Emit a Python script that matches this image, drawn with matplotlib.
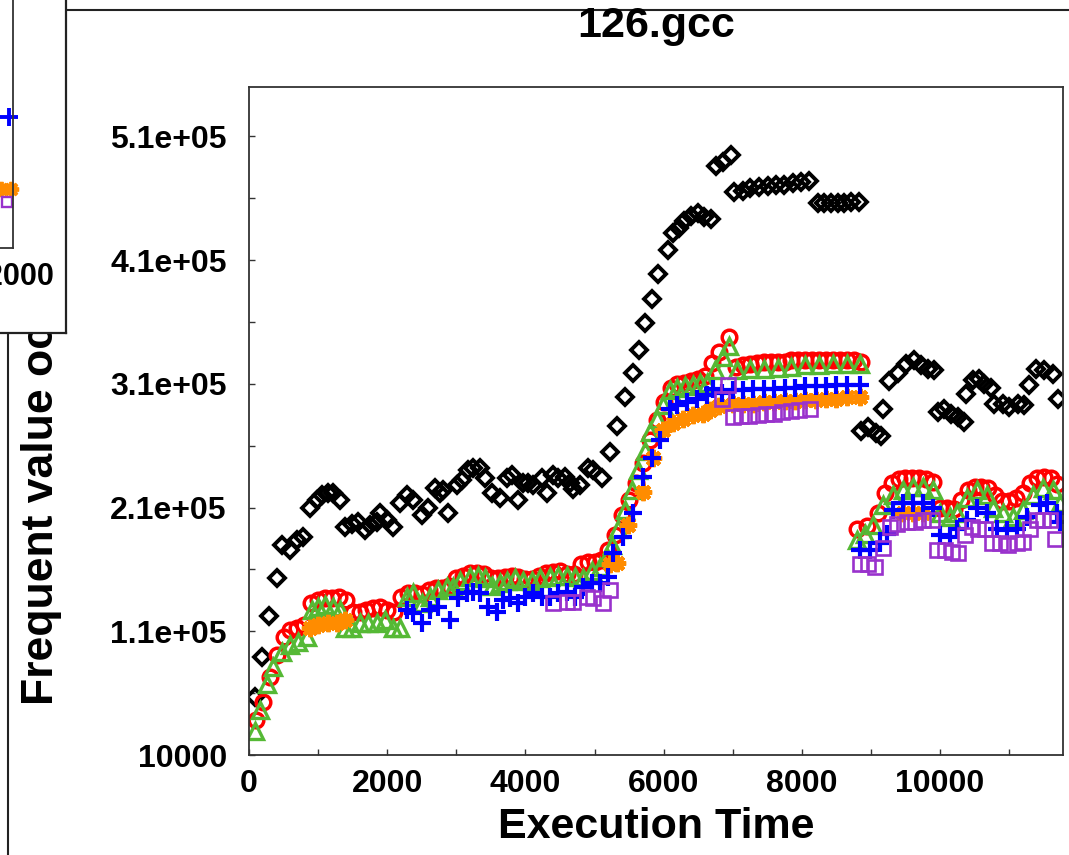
import matplotlib
matplotlib.use("Agg")
import matplotlib.pyplot as plt
from matplotlib.lines import Line2D
from matplotlib.ticker import FixedLocator, MultipleLocator

FONT = "Liberation Sans"

# ---------------- data ----------------
black_x = [87, 188, 290, 406, 478, 594, 696, 783, 884, 985, 1058, 1145, 1217, 1319,
           1391, 1493, 1579, 1681, 1753, 1855, 1898, 2000, 2087, 2188, 2290, 2376,
           2507, 2594, 2695, 2768, 2811, 2884, 3014, 3086, 3173, 3246, 3347, 3420,
           3521, 3637, 3738, 3811, 3898, 3970, 4043, 4115, 4246, 4318, 4405, 4477,
           4579, 4651, 4695, 4796, 4912, 4985, 5115, 5231, 5332, 5448, 5550, 5637,
           5738, 5839, 5926, 6057, 6129, 6216, 6289, 6390, 6492, 6578, 6680, 6752,
           6854, 6969, 7013, 7144, 7245, 7375, 7506, 7622, 7738, 7868, 7984, 8100,
           8230, 8317, 8419, 8520, 8607, 8708, 8824,
           8860, 8955, 9071, 9143, 9172, 9259, 9390, 9505, 9621, 9723, 9824, 9911,
           9969, 10056, 10158, 10259, 10346, 10375, 10476, 10563, 10636, 10737,
           10781, 10911, 10998, 11128, 11215, 11288, 11389, 11505, 11635, 11708]
black_y = [57, 89, 122, 153, 180, 176, 184, 186, 210, 216, 220, 222, 222, 216,
           194, 197, 198, 192, 196, 198, 206, 200, 194, 214, 220, 216,
           204, 210, 226, 222, 224, 206, 228, 232, 240, 242, 242, 234,
           222, 218, 234, 236, 216, 230, 230, 228, 234, 222, 236, 234,
           235, 230, 225, 228, 242, 240, 234, 255, 276, 299, 319, 337,
           359, 379, 399, 418, 432, 436, 442, 446, 448, 445, 443, 486,
           489, 495, 465, 466, 468, 469, 470, 471, 471, 472, 473, 474,
           456, 456, 456, 456, 456, 457, 457,
           272, 275, 270, 268, 290, 312, 319, 326, 329, 325, 322, 321,
           287, 290, 286, 283, 279, 302, 313, 314, 310, 307,
           294, 294, 291, 294, 293, 309, 322, 321, 318, 298]

red_x = [100, 200, 300, 400, 500, 600, 700, 800, 900, 1000, 1100, 1200, 1300, 1400,
         1500, 1600, 1700, 1800, 1900, 2000, 2100, 2200, 2300, 2400, 2500, 2600,
         2700, 2800, 2900, 3000, 3100, 3200, 3300, 3400, 3500, 3600, 3700, 3800,
         3900, 4000, 4100, 4200, 4300, 4400, 4500, 4600, 4700, 4800, 4900, 5000,
         5100, 5200, 5300, 5400, 5500, 5600, 5700, 5800, 5900, 6000, 6100, 6200,
         6300, 6400, 6500, 6600, 6700, 6800, 6950, 7050, 7150, 7250, 7350, 7450,
         7550, 7650, 7750, 7850, 7950, 8050, 8150, 8250, 8350, 8450, 8550, 8650,
         8750, 8850,
         8800, 8950, 9100, 9200, 9300, 9400, 9500, 9600, 9700, 9800, 9900, 10000,
         10100, 10200, 10300, 10400, 10500, 10600, 10700, 10800, 10900, 11000,
         11100, 11200, 11300, 11400, 11500, 11600, 11700]
red_y = [38, 53, 73, 91, 105, 111, 113, 115, 133, 135, 137, 137, 138, 135,
         126, 126, 127, 129, 130, 127, 126, 138, 141, 141, 140, 143,
         145, 145, 147, 153, 155, 157, 157, 156, 153, 153, 154, 155,
         154, 152, 152, 155, 157, 158, 159, 156, 156, 164, 166, 166,
         168, 176, 188, 204, 216, 230, 246, 265, 281, 295, 307, 310,
         311, 312, 314, 316, 327, 336, 348, 324, 325, 326, 327, 328,
         328, 328, 328, 329, 329, 329, 329, 329, 329, 329, 329, 329,
         329, 328,
         193, 195, 206, 222, 230, 233, 234, 234, 234, 233, 231, 210,
         210, 209, 216, 224, 227, 227, 226, 220, 215, 215,
         218, 222, 230, 234, 235, 234, 229]

green_x = [87, 159, 260, 347, 478, 593, 709, 839, 912, 998, 1100, 1215, 1317, 1389,
           1490, 1606, 1722, 1852, 1968, 2084, 2185, 2286, 2373, 2503, 2619, 2735,
           2865, 2952, 3053, 3198, 3314, 3415, 3516, 3632, 3733, 3849, 3965, 4095,
           4211, 4355, 4471, 4601, 4717, 4833, 4963, 5079, 5180, 5252, 5339, 5441,
           5542, 5629, 5730, 5802, 5904, 5991, 6092, 6193, 6309, 6425, 6526, 6627,
           6743, 6859, 6946, 7061, 7250, 7450, 7650, 7850, 8050, 8250, 8450, 8650,
           8841,
           8798, 8914, 9029, 9174, 9319, 9463, 9608, 9753, 9897, 9999, 10143, 10245,
           10389, 10534, 10679, 10766, 10910, 11055, 11200, 11344, 11489, 11634, 11735]
green_y = [29, 46, 67, 81, 93, 99, 101, 105, 127, 130, 131, 130, 127, 113,
           113, 117, 117, 117, 119, 113, 113, 138, 141, 133, 138, 143,
           146, 146, 151, 154, 155, 153, 147, 149, 151, 153, 151, 151,
           153, 154, 155, 155, 154, 153, 159, 162, 170, 180, 193, 208,
           224, 240, 256, 271, 282, 293, 305, 307, 308, 309, 311, 311,
           321, 332, 341, 321, 322, 322, 323, 324, 325, 325, 326, 326,
           326,
           184, 189, 196, 212, 220, 224, 227, 227, 224, 206, 202, 206,
           218, 224, 220, 210, 206, 202, 208, 220, 226, 224, 214]

blue_x = [2286, 2373, 2503, 2619, 2735, 2908, 3024, 3154, 3241, 3343, 3458, 3589,
          3675, 3777, 3892, 3994, 4109, 4240, 4355, 4471, 4601, 4717, 4833, 4963,
          5079, 5195, 5267, 5412, 5556, 5701, 5831, 5947, 6092, 6193, 6338, 6483,
          6627, 6714, 6850, 7000, 7150, 7300, 7450, 7600, 7750, 7900, 8050, 8200,
          8350, 8500, 8650, 8841,
          8841, 8986, 9130, 9232, 9319, 9463, 9608, 9753, 9897, 9999, 10143, 10245,
          10389, 10534, 10679, 10824, 10968, 11113, 11258, 11446, 11547, 11692, 11730]
blue_y = [127, 125, 117, 127, 130, 119, 137, 141, 142, 141, 130, 126,
          135, 137, 133, 138, 141, 138, 138, 141, 142, 138, 146, 149,
          149, 154, 173, 186, 206, 235, 250, 265, 290, 293, 295, 298,
          301, 306, 303, 305, 305, 306, 306, 306, 307, 307, 308, 308,
          308, 309, 309, 309,
          176, 176, 181, 189, 208, 214, 214, 214, 210, 188, 186, 193,
          200, 210, 206, 193, 192, 193, 202, 212, 214, 206, 198]

orange_x = [883, 998, 1143, 1273, 1389, 5224, 5325, 5484, 5701, 5846, 5991, 6135,
            6280, 6425, 6569, 6671, 6800, 7003, 7150, 7300, 7450, 7600, 7750, 7900,
            8050, 8200, 8350, 8500, 8650, 8841, 9463, 9608, 9753]
orange_y = [113, 115, 117, 117, 119, 164, 165, 196, 223, 250, 273, 278,
            282, 285, 286, 289, 292, 294, 294, 294, 295, 295, 296, 296,
            297, 297, 298, 298, 299, 299, 206, 206, 206]

purple_x = [4399, 4601, 4688, 4891, 4978, 5122, 5224, 6844, 6931, 7003, 7120, 7240,
            7360, 7480, 7600, 7720, 7840, 7960, 8118,
            8841, 8957, 9058, 9174, 9275, 9376, 9521, 9637, 9753, 9883, 9955, 10071,
            10172, 10259, 10360, 10462, 10549, 10650, 10751, 10867, 10983, 11113,
            11200, 11301, 11402, 11489, 11591, 11663]
purple_y = [133, 134, 134, 138, 137, 133, 143, 298, 309, 283, 284, 284,
            285, 286, 286, 287, 288, 289, 290,
            164, 164, 162, 177, 194, 197, 198, 198, 200, 200, 176, 176,
            174, 173, 188, 194, 193, 193, 181, 181, 180, 181,
            182, 193, 200, 200, 200, 185]

# partly hidden neighbouring chart (top-left corner)
inset_blue_x, inset_blue_y = [11940], [116]
inset_orange_x, inset_orange_y = [11830, 11965], [58, 58]
inset_purple_x, inset_purple_y = [11915], [47]

yticks = [10000, 110000, 210000, 310000, 410000, 510000]
ytick_labels = ["10000", "1.1e+05", "2.1e+05", "3.1e+05", "4.1e+05", "5.1e+05"]
xticks = [0, 2000, 4000, 6000, 8000, 10000]

# ---------------- figure ----------------
W, H = 1069, 855
fig = plt.figure(figsize=(W / 100, H / 100), dpi=100)
fig.patch.set_facecolor("white")


def fx(px):
    return px / W


def fy(py):
    return 1 - py / H


ax = fig.add_axes([fx(249), fy(755), fx(1063) - fx(249), fy(87) - fy(755)])

k = 1000.0
style = dict(linestyle="none", clip_on=True)
ax.plot(black_x, [v * k for v in black_y], marker="D", ms=8.5, mfc="none",
        mec="black", mew=2.8, **style)
ax.plot(red_x, [v * k for v in red_y], marker="o", ms=10.5, mfc="none",
        mec="#ff0000", mew=2.5, **style)
ax.plot(green_x, [v * k for v in green_y], marker="^", ms=11.5, mfc="none",
        mec="#55b935", mew=2.4, **style)
ax.plot(orange_x, [v * k for v in orange_y], marker=(8, 2, 0), ms=12.5,
        mec="#ff8c00", mew=3.0, **style)
ax.plot(blue_x, [v * k for v in blue_y], marker="+", ms=13.5, mec="#0000ff",
        mew=3.0, **style)
ax.plot(purple_x, [v * k for v in purple_y], marker="s", ms=9.5, mfc="none",
        mec="#9932cc", mew=1.9, **style)

ax.set_xlim(0, 11780)
ax.set_ylim(10000, 550000)
ax.yaxis.set_major_locator(FixedLocator(yticks))
ax.set_yticklabels(ytick_labels)
ax.yaxis.set_minor_locator(FixedLocator([60000, 160000, 260000, 360000, 460000]))
ax.xaxis.set_major_locator(FixedLocator(xticks))
ax.xaxis.set_minor_locator(MultipleLocator(1000))
ax.tick_params(which="both", direction="in", length=4.5, width=1.0,
               top=False, right=False, color="#333333")
ax.tick_params(axis="y", which="major", pad=16)
ax.tick_params(axis="x", which="major", pad=10)
for lab in ax.get_xticklabels() + ax.get_yticklabels():
    lab.set_fontfamily(FONT)
    lab.set_fontweight("bold")
    lab.set_fontsize(23)
for s in ax.spines.values():
    s.set_linewidth(1.3)
    s.set_color("#333333")

ax.set_xlabel("Execution Time", fontfamily=FONT, fontweight="bold", fontsize=31,
              va="baseline")
ax.xaxis.set_label_coords(0.5, (755 - 838) / 668)
ax.set_ylabel("Frequent value occurrence", fontfamily=FONT, fontweight="bold",
              fontsize=32, va="baseline")
ax.yaxis.set_label_coords((53 - 249) / 814, (755 - 421) / 668)

fig.text(fx(656), fy(37), "126.gcc", ha="center", va="baseline", fontfamily=FONT,
         fontweight="bold", fontsize=31)

# frame of the figure window
fig.add_artist(Line2D([fx(8), fx(8)], [0, fy(333)], transform=fig.transFigure,
                      color="#222222", lw=1.5))
fig.add_artist(Line2D([fx(66), 1], [fy(10), fy(10)], transform=fig.transFigure,
                      color="#222222", lw=1.5))

# overlapping window of another chart at top-left
box = fig.add_axes([fx(-20), fy(333), fx(66) - fx(-20), fy(-20) - fy(333)])
box.set_facecolor("white")
box.set_xticks([])
box.set_yticks([])
box.spines["left"].set_visible(False)
box.spines["top"].set_visible(False)
for s in ("right", "bottom"):
    box.spines[s].set_linewidth(1.6)
    box.spines[s].set_color("#222222")
box.set_zorder(10)

inner_w = 11780 / 14.47
inner = fig.add_axes([fx(13 - inner_w), fy(248), inner_w / W, 668 / H])
inner.set_facecolor("none")
inner.set_xlim(0, 12000)
inner.set_ylim(10000, 550000)
inner.set_xticks([])
inner.set_yticks([])
inner.spines["left"].set_visible(False)
inner.spines["top"].set_visible(False)
for s in ("right", "bottom"):
    inner.spines[s].set_linewidth(1.3)
    inner.spines[s].set_color("#333333")
inner.set_zorder(11)
inner.plot(inset_blue_x, [v * k for v in inset_blue_y], marker="+", ms=13,
           mec="#0000ff", mew=2.8, linestyle="none", clip_on=False)
inner.plot(inset_orange_x, [v * k for v in inset_orange_y], marker=(8, 2, 0),
           ms=11, mec="#ff8c00", mew=2.8, linestyle="none", clip_on=False)
inner.plot(inset_purple_x, [v * k for v in inset_purple_y], marker="s", ms=7.5,
           mfc="none", mec="#9932cc", mew=1.7, linestyle="none", clip_on=False)
fig.text(fx(54), fy(285), "12000", ha="right", va="baseline", fontfamily=FONT,
         fontweight="bold", fontsize=22, zorder=20)

fig.savefig("out.png", dpi=100, facecolor="white")
